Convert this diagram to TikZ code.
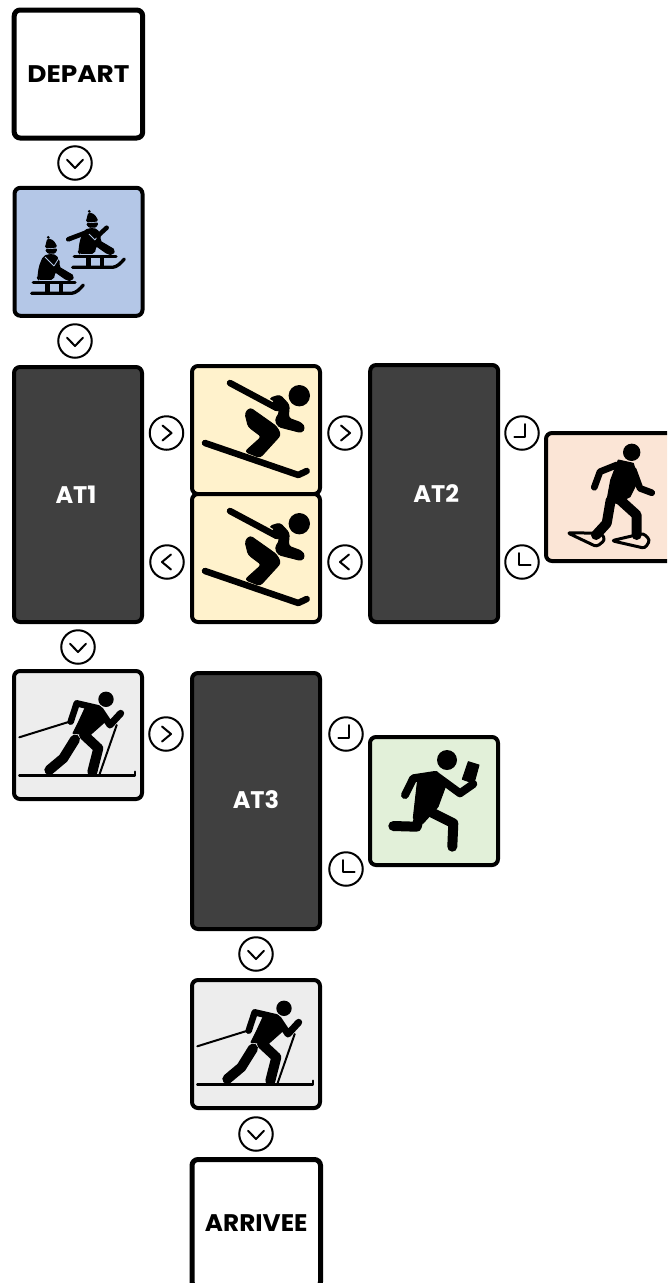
\documentclass[tikz,border=0pt]{standalone}
\usepackage{fontspec}
\setmainfont{Poppins}
\definecolor{cblue}{HTML}{B4C7E7}
\definecolor{cyel}{HTML}{FFF2CC}
\definecolor{cdark}{HTML}{404040}
\definecolor{cpink}{HTML}{FBE5D6}
\definecolor{cgrey}{HTML}{EDEDED}
\definecolor{cgreen}{HTML}{E2F0D9}
\tikzset{
  x=1pt,y=-1pt,
  tile/.style={draw=black,line width=4pt,rounded corners=6pt,inner sep=0pt,outer sep=0pt,minimum width=128pt,minimum height=128pt,anchor=north west},
  tall/.style={tile,fill=cdark,text=white,font=\bfseries\fontsize{24}{24}\selectfont,minimum height=256pt},
  word/.style={tile,fill=white,line width=5pt,font=\bfseries\fontsize{24}{24}\selectfont},
  disc/.style={circle,draw=black,line width=2pt,fill=white,minimum size=33.5pt,inner sep=0pt},
  chev/.style={draw=black,line width=2pt,line cap=round,line join=round},
  limb/.style={draw=black,line cap=round,line join=round,line width=#1},
  limb/.default=8pt,
  solid body/.style={fill=black,draw=black,line width=1pt,line join=round},
  pics/skier/.style={code={
    \fill (108.3,30.7) circle (10.7);
    \draw[limb=6.5pt] (14,78)--(107.3,110)--(115.7,106);
    \path[solid body,rounded corners=3pt] (54,48.3)--(59,42.7)--(80.7,58)--(86,62)--(89.7,70)--(69,92.7)--(54,86.7)--(70.7,71.7)--(57.3,61.7)--cycle;
    \path[solid body,rounded corners=3pt] (78.3,33.3)--(89,30)--(98.3,40)--(97.3,53)--(110.7,58)--(114,63)--(110.7,67.7)--(87.3,61.7)--(84,55)--(89,46.7)--(85.7,41.7)--cycle;
    \draw[draw=#1,line width=9pt,line cap=butt] (50,24)--(80,40);
    \draw[limb=6.5pt] (39,18)--(85.7,43);
  }},
  pics/xcski/.style={code={
    \fill (94,30.3) circle (7.7);
    \draw[limb=2.5pt] (7.3,106.7)--(123,106.7)--(123,102.7);
    \draw[limb=2pt] (7.3,68.3)--(59.7,52);
    \draw[limb=2pt] (104.7,56)--(87.3,106);
    \draw[limb=6.5pt] (86.3,39.3)--(64.7,34.3)--(58.7,52.7);
    \draw[limb=7pt] (88,41)--(98,56)--(108.7,44.3);
    \path[solid body] (74,37)--(88,39.3)--(93,52.7)--(78,66)--(61,64.3)--(66,54.3)--cycle;
    \draw[limb=10pt] (63,70.5)--(51.3,89.3)--(37.3,101);
    \draw[limb=10pt] (72,66)--(86.3,79.3)--(80.3,103);
  }},
  pics/rider/.style={code={
    \fill (48.3,237.3) circle (1.5);
    \path[solid body,rounded corners=1.5pt] (47.7,238.7)--(53.3,240.7)--(57,247)--(45.3,248)--cycle;
    \path[solid body,rounded corners=1pt] (45.5,249.8)--(57,249)--(55,253)--(48.3,253.3)--cycle;
    \path[solid body,rounded corners=2pt] (37.7,278.3)--(39.3,266.7)--(43.3,256.7)--(48.3,254.5)--(56,255)--(60,263.3)--(58.3,266.7)--(74,276)--(71.7,280.7)--(66.7,280)--(55,271.7)--(53.3,279.3)--(38.3,279.3)--cycle;
    \draw[draw=cblue,line width=.8pt] (45,257)--(54,266) (54,266)--(59,258);
    \draw[limb=3.3pt] (33.3,282.7)--(75,282.7);
    \draw[limb=3.3pt] (31.7,293.3)--(71.7,293.3)..controls (76,293) and (80,289) .. (83.3,285);
    \draw[line width=4.5pt] (47.5,282.7)--(47.5,293.3) (61,282.7)--(61,293.3);
  }},
  pics/runner/.style={code={
    \fill (79,25) circle (10);
    \path[solid body] (100.3,26.7)--(111,30)--(106,48.3)--(94.3,44.3)--cycle;
    \draw[limb=8pt] (67,40)--(45.3,43.3)--(37,60);
    \draw[limb=8pt] (67,40)--(92,58.3)--(105.3,49);
    \path[solid body] (50,41.7)--(68.7,36.7)--(78,50)--(70,71.7)--(55,88.3)--(45.3,83)--cycle;
    \draw[limb=10pt] (58.7,75)--(85.3,88.3)--(84.3,111.7);
    \draw[limb=10pt] (52,78.3)--(48.7,91.7)--(25.3,91);
  }},
  pics/shoer/.style={code={
    \fill (87.7,21.3) circle (8.7);
    \draw[limb=6.7pt] (72.7,34)--(56,40.7)--(50.3,56.3);
    \draw[limb=6.7pt] (89.3,39)--(96,57.3)--(107.7,61.7);
    \path[solid body] (74.3,29)--(89.3,32.3)--(94.3,49)--(86,65.7)--(72.7,72.3)--(62.7,70.7)--(66.7,49)--cycle;
    \draw[limb=10pt] (66.7,69)--(62.7,92.3)--(52,104);
    \draw[limb=10pt] (74.3,67.3)--(92.7,84)--(92.7,104);
    \draw[limb=3pt,rounded corners=3pt] (23.3,101.7)--(52.7,115.7)--(61,109)--(57.7,102.3)--cycle;
    \draw[limb=3pt,rounded corners=3pt] (67.7,109.7)--(101,117.3)--(106,109)--(99.3,102.3)--cycle;
  }},
}
\newcommand{\downglyph}[1]{\draw[chev] ([shift={(-8,-3.3)}]#1.center)--([shift={(0,5)}]#1.center)--([shift={(8,-3.3)}]#1.center);}
\newcommand{\rightglyph}[1]{\draw[chev] ([shift={(-4,-7.5)}]#1.center)--([shift={(5,0)}]#1.center)--([shift={(-4,7.5)}]#1.center);}
\newcommand{\leftglyph}[1]{\draw[chev] ([shift={(4,-7.5)}]#1.center)--([shift={(-5,0)}]#1.center)--([shift={(4,7.5)}]#1.center);}
\newcommand{\jglyph}[1]{\draw[chev] ([shift={(3,-9)}]#1.center)--([shift={(3,3.7)}]#1.center)--([shift={(-7.7,3.7)}]#1.center);}
\newcommand{\lglyph}[1]{\draw[chev] ([shift={(-2.7,-9)}]#1.center)--([shift={(-2.7,3.3)}]#1.center)--([shift={(8.7,3.3)}]#1.center);}
\begin{document}
\begin{tikzpicture}
\useasboundingbox (0,0) rectangle (667,1283);
\clip (0,0) rectangle (667,1283);
\fill[white] (0,0) rectangle (667,1283);
% tiles
\node[word,minimum width=128.5pt] (depart) at (14.2,10) {\scalebox{1.1}[1]{DEPART}};
\node[tile,fill=cblue] (sled) at (14.5,187.8) {};
\node[tall,minimum height=255pt] (at1) at (14,367) {\hspace*{-4pt}AT1};
\node[tile,fill=cyel] (ski1) at (192,366) {};
\node[tile,fill=cyel] (ski2) at (192,494) {};
\node[tall,minimum height=257pt] (at2) at (370.2,365) {\hspace*{4pt}AT2};
\node[tile,fill=cpink] (shoe) at (546,433) {};
\node[tile,fill=cgrey] (xc1) at (14,671) {};
\node[tall,minimum height=256pt] (at3) at (192,673) {\raisebox{2pt}{AT3}};
\node[tile,fill=cgreen] (run) at (370,737) {};
\node[tile,fill=cgrey] (xc2) at (192,980) {};
\node[word,minimum width=128.5pt] (finish) at (192,1159.5) {\scalebox{1.03}[1]{ARRIVEE}};
% icons
\pic at (0,0) {rider};
\pic at (41,-26) {rider};
\draw[limb=4.7pt] (68.3,239.3)--(88.3,231.7);
\draw[limb=4.5pt] (97.7,236)--(106.7,227.7);
\pic at (191,365) {skier=cyel};
\pic at (191,493) {skier=cyel};
\pic at (544,431) {shoer};
\pic at (12,669) {xcski};
\pic at (368,735) {runner};
\pic at (190,978) {xcski};
% discs
\foreach \n/\x/\y in {d1/75/163,d2/75/341,d3/78/647,d4/256/954,d5/256/1134}{\node[disc] (\n) at (\x,\y) {};\downglyph{\n}}
\foreach \n/\x/\y in {r1/166.5/433,r2/345/433,r3/166/734}{\node[disc] (\n) at (\x,\y) {};\rightglyph{\n}}
\foreach \n/\x/\y in {l1/167/562,l2/345/562}{\node[disc] (\n) at (\x,\y) {};\leftglyph{\n}}
\foreach \n/\x/\y in {j1/522/433,j2/346/734}{\node[disc] (\n) at (\x,\y) {};\jglyph{\n}}
\foreach \n/\x/\y in {k1/522/562,k2/346/869}{\node[disc] (\n) at (\x,\y) {};\lglyph{\n}}
\end{tikzpicture}
\end{document}
